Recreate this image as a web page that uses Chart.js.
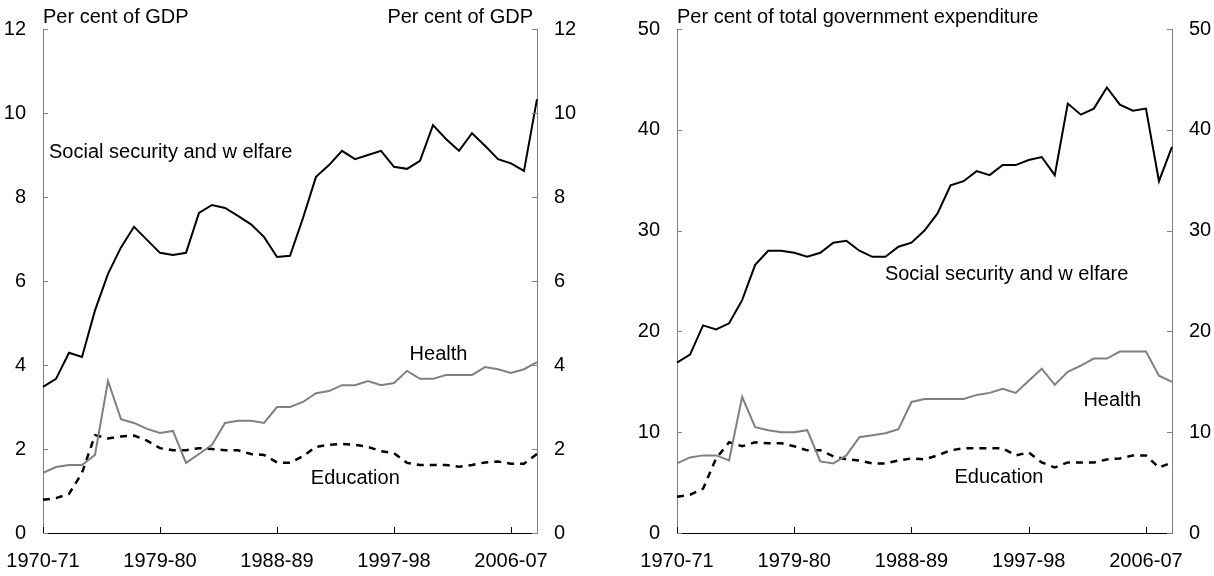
<!DOCTYPE html>
<html>
<head>
<meta charset="utf-8">
<script src="https://cdn.jsdelivr.net/npm/chart.js@4/dist/chart.umd.min.js"></script>
<style>
  html, body { margin: 0; padding: 0; background: #fff; }
  body { width: 1214px; height: 576px; position: relative; overflow: hidden; }
  canvas { position: absolute; top: 0; }
</style>
</head>
<body>
<canvas id="c1" width="600" height="576" style="left:0px"></canvas>
<canvas id="c2" width="614" height="576" style="left:600px"></canvas>
<script>
// ---- Data ----
const years = ["1970-71","1971-72","1972-73","1973-74","1974-75","1975-76","1976-77","1977-78","1978-79","1979-80",
  "1980-81","1981-82","1982-83","1983-84","1984-85","1985-86","1986-87","1987-88","1988-89","1989-90",
  "1990-91","1991-92","1992-93","1993-94","1994-95","1995-96","1996-97","1997-98","1998-99","1999-00",
  "2000-01","2001-02","2002-03","2003-04","2004-05","2005-06","2006-07","2007-08","2008-09"];
const xTickLabels = ["1970-71","1979-80","1988-89","1997-98","2006-07"];

// Per cent of GDP
const gdpSocial = [3.48,3.67,4.29,4.19,5.3,6.17,6.8,7.29,6.98,6.67,6.62,6.67,7.62,7.81,7.74,7.55,7.35,7.05,6.57,6.6,
  7.5,8.48,8.76,9.1,8.9,9.0,9.1,8.72,8.67,8.86,9.71,9.38,9.1,9.52,9.22,8.9,8.8,8.62,10.33];
const gdpHealth = [1.43,1.57,1.62,1.62,1.86,3.62,2.71,2.62,2.48,2.38,2.43,1.67,1.88,2.1,2.62,2.67,2.67,2.62,3.0,3.0,
  3.12,3.33,3.38,3.52,3.52,3.62,3.52,3.57,3.86,3.67,3.67,3.76,3.76,3.76,3.95,3.9,3.81,3.9,4.07];
const gdpEducation = [0.79,0.83,0.93,1.43,2.33,2.25,2.3,2.32,2.2,2.02,1.97,1.97,2.02,2.0,1.97,1.97,1.88,1.86,1.68,1.67,
  1.83,2.05,2.1,2.12,2.1,2.05,1.95,1.9,1.67,1.62,1.62,1.62,1.58,1.62,1.68,1.7,1.65,1.65,1.88];

// Per cent of total government expenditure
const expSocial = [16.9,17.7,20.6,20.2,20.8,23.1,26.6,28.0,28.0,27.8,27.4,27.8,28.8,29.0,28.0,27.4,27.4,28.4,28.8,30.0,
  31.7,34.5,34.9,35.9,35.5,36.5,36.5,37.0,37.3,35.5,42.6,41.5,42.1,44.2,42.5,41.9,42.1,34.9,38.3];
const expHealth = [6.9,7.5,7.7,7.7,7.2,13.5,10.5,10.2,10.0,10.0,10.2,7.1,6.9,7.7,9.5,9.7,9.9,10.3,13.0,13.3,
  13.3,13.3,13.3,13.7,13.9,14.3,13.9,15.1,16.3,14.7,16.0,16.6,17.3,17.3,18.0,18.0,18.0,15.6,15.0];
const expEducation = [3.6,3.8,4.4,7.4,9.0,8.6,9.0,8.9,8.9,8.6,8.2,8.2,7.6,7.3,7.2,6.9,6.9,7.2,7.4,7.3,
  7.7,8.2,8.4,8.4,8.4,8.4,7.7,8.0,7.0,6.5,7.0,7.0,7.0,7.3,7.4,7.7,7.7,6.5,7.0];

const gdpYTicks = [0,2,4,6,8,10,12];
const expYTicks = [0,10,20,30,40,50];

const FONT = "'Liberation Sans', Arial, sans-serif";
Chart.defaults.font.family = FONT;
Chart.defaults.color = '#000';

// ---- plugin: inward ticks, titles, series labels ----
const decorPlugin = {
  id: 'decor',
  afterDraw(chart, args, opts) {
    const ctx = chart.ctx;
    const x = chart.scales.x, y = chart.scales.y, y2 = chart.scales.y2;
    const a = chart.chartArea;
    ctx.save();
    ctx.strokeStyle = '#808080';
    ctx.lineWidth = 1;
    y.ticks.forEach(t => {
      const py = Math.round(y.getPixelForValue(t.value)) + 0.5;
      ctx.beginPath(); ctx.moveTo(a.left, py); ctx.lineTo(a.left + 5, py); ctx.stroke();
    });
    y2.ticks.forEach(t => {
      const py = Math.round(y2.getPixelForValue(t.value)) + 0.5;
      ctx.beginPath(); ctx.moveTo(a.right, py); ctx.lineTo(a.right - 5, py); ctx.stroke();
    });
    ctx.strokeStyle = '#000';
    years.forEach((lab, i) => {
      if (xTickLabels.indexOf(lab) >= 0) {
        const px = Math.round(x.getPixelForValue(i)) + 0.5;
        ctx.beginPath(); ctx.moveTo(px, a.bottom); ctx.lineTo(px, a.bottom - 6); ctx.stroke();
      }
    });
    ctx.fillStyle = '#000';
    ctx.font = '20px ' + FONT;
    ctx.textBaseline = 'alphabetic';
    (opts.titles || []).forEach(tt => {
      ctx.textAlign = tt.align;
      const px = tt.align === 'left' ? a.left + tt.dx : a.right + tt.dx;
      ctx.fillText(tt.text, px, tt.baseline);
    });
    ctx.textAlign = 'left';
    (opts.labels || []).forEach(l => {
      ctx.fillText(l.text, x.getPixelForValue(l.xi), y.getPixelForValue(l.yv));
    });
    ctx.restore();
  }
};

function makeChart(id, series, yMax, yStep, leftW, rightW, titles, labels) {
  return new Chart(document.getElementById(id), {
    type: 'line',
    data: {
      labels: years,
      datasets: [
        { data: series[0], borderColor: '#000', borderWidth: 2, pointRadius: 0, tension: 0, yAxisID: 'y' },
        { data: series[1], borderColor: '#808080', borderWidth: 2, pointRadius: 0, tension: 0, yAxisID: 'y' },
        { data: series[2], borderColor: '#000', borderWidth: 2.5, borderDash: [7, 6], pointRadius: 0, tension: 0, yAxisID: 'y' }
      ]
    },
    options: {
      responsive: false,
      devicePixelRatio: 1,
      animation: false,
      events: [],
      layout: { padding: { top: 29, left: 0, right: 0, bottom: 0 } },
      plugins: {
        legend: { display: false },
        tooltip: { enabled: false },
        decor: { titles: titles, labels: labels }
      },
      scales: {
        x: {
          type: 'category',
          offset: false,
          grid: { display: true, drawOnChartArea: false, drawTicks: false },
          border: { display: true, color: '#000', width: 1 },
          ticks: {
            autoSkip: false, maxRotation: 0, minRotation: 0, padding: 16,
            font: { size: 20, family: FONT }, color: '#000',
            callback: (v, i) => xTickLabels.indexOf(years[i]) >= 0 ? years[i] : ''
          },
          afterFit: s => { s.height = 43; s.paddingLeft = 0; s.paddingRight = 0; }
        },
        y: {
          position: 'left', min: 0, max: yMax,
          grid: { display: true, drawOnChartArea: false, drawTicks: false },
          border: { display: true, color: '#808080', width: 1 },
          ticks: { stepSize: yStep, padding: 17, font: { size: 20, family: FONT }, color: '#000' },
          afterFit: s => { s.width = leftW; }
        },
        y2: {
          position: 'right', min: 0, max: yMax,
          grid: { display: true, drawOnChartArea: false, drawTicks: false },
          border: { display: true, color: '#808080', width: 1 },
          ticks: { stepSize: yStep, padding: 17, font: { size: 20, family: FONT }, color: '#000' },
          afterFit: s => { s.width = rightW; }
        }
      }
    },
    plugins: [decorPlugin]
  });
}

makeChart('c1', [gdpSocial, gdpHealth, gdpEducation], gdpYTicks[gdpYTicks.length - 1], gdpYTicks[1] - gdpYTicks[0], 43, 63,
  [ { text: 'Per cent of GDP', align: 'left', dx: 0, baseline: 23 },
    { text: 'Per cent of GDP', align: 'right', dx: -4, baseline: 23 } ],
  [ { text: 'Social security and w elfare', xi: 0.46, yv: 8.93 },
    { text: 'Health', xi: 28.2, yv: 4.12 },
    { text: 'Education', xi: 20.6, yv: 1.17 } ]);

makeChart('c2', [expSocial, expHealth, expEducation], expYTicks[expYTicks.length - 1], expYTicks[1] - expYTicks[0], 77, 42,
  [ { text: 'Per cent of total government expenditure', align: 'left', dx: 0, baseline: 23 } ],
  [ { text: 'Social security and w elfare', xi: 15.96, yv: 25.1 },
    { text: 'Health', xi: 31.2, yv: 12.6 },
    { text: 'Education', xi: 21.3, yv: 4.96 } ]);
</script>
</body>
</html>
